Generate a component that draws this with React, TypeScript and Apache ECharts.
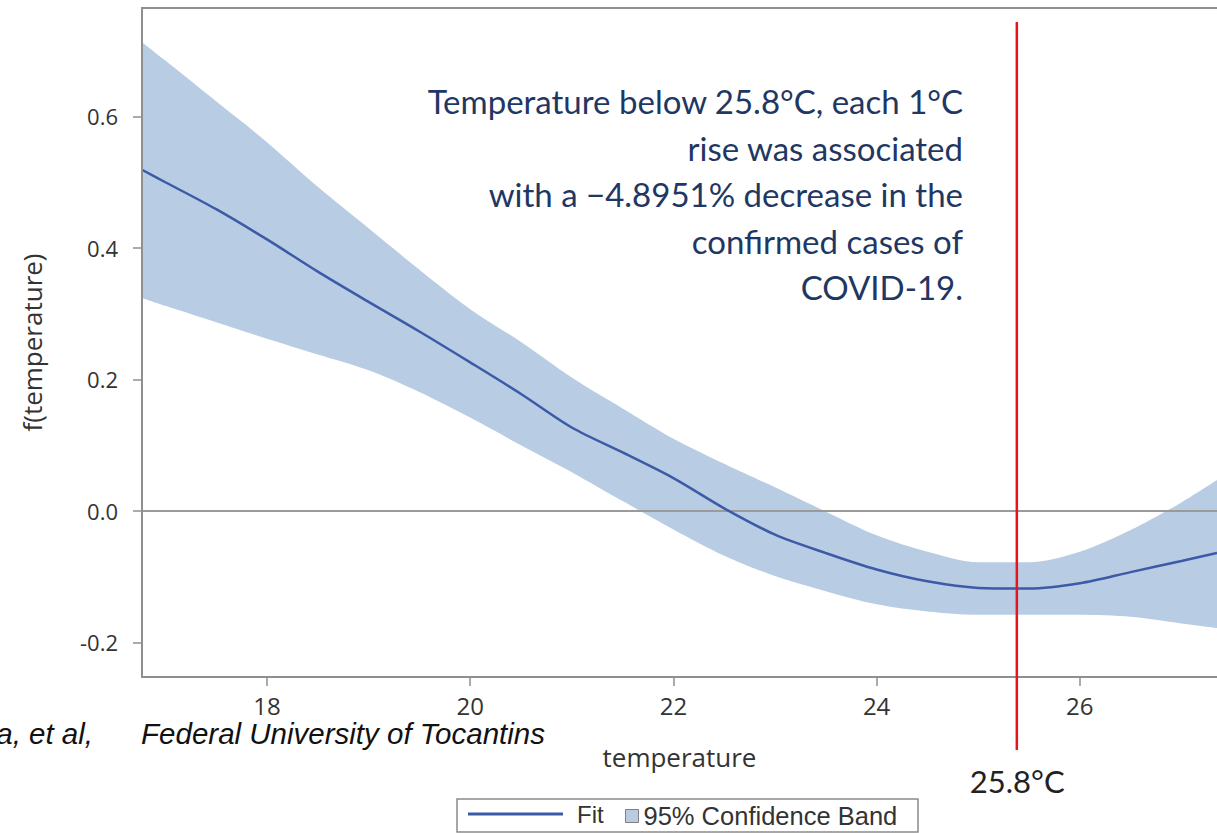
import React, { useEffect, useRef } from "react";
import * as echarts from "echarts";

const TEMPS = [16.77, 17, 17.5, 18, 18.5, 19, 19.5, 20, 20.5, 21, 21.5, 22, 22.5, 23, 23.5, 24, 24.5, 25, 25.5, 26, 26.5, 27, 27.35];
const FIT = [0.519, 0.5, 0.459, 0.413, 0.364, 0.318, 0.273, 0.226, 0.178, 0.127, 0.089, 0.05, 0.004, -0.036, -0.064, -0.089, -0.107, -0.117, -0.118, -0.11, -0.093, -0.076, -0.064];
const UPPER = [0.713, 0.685, 0.623, 0.561, 0.493, 0.43, 0.367, 0.307, 0.257, 0.203, 0.156, 0.11, 0.072, 0.036, -0.001, -0.037, -0.062, -0.078, -0.078, -0.062, -0.029, 0.013, 0.047];
const LOWER = [0.324, 0.312, 0.287, 0.262, 0.238, 0.214, 0.181, 0.142, 0.1, 0.059, 0.015, -0.028, -0.068, -0.099, -0.122, -0.142, -0.153, -0.158, -0.158, -0.158, -0.161, -0.171, -0.178];

const X_TICKS = [18, 20, 22, 24, 26];
const Y_TICKS = [-0.2, 0.0, 0.2, 0.4, 0.6];
const X_MIN = 16.77;
const X_MAX = 27.35;
const Y_MIN = -0.2525;
const Y_MAX = 0.765;
const THRESHOLD_POS = 25.38;
const THRESHOLD_LABEL = "25.8°C";
const ANNOTATION = [
  "Temperature below 25.8°C, each 1°C",
  "rise was associated",
  "with a \u22124.8951% decrease in the",
  "confirmed cases of",
  "COVID-19.",
];
const CAPTION_AUTHORS = "a, et al,";
const CAPTION_PLACE = "Federal University of Tocantins";

const AXIS_COLOR = "#8f8f8f";
const BAND_COLOR = "#b8cce4";
const FIT_COLOR = "#3c5aa6";

export default function App() {
  const ref = useRef<HTMLDivElement>(null);
  useEffect(() => {
    if (!ref.current) return;
    document.body.style.margin = "0";
    const chart = echarts.init(ref.current, null, { renderer: "svg" });
    const axisLine = { show: true, onZero: false, lineStyle: { color: AXIS_COLOR, width: 2 } };
    const xLabelFont = { fontFamily: "Open Sans", fontSize: 24, color: "#333" };
    const yLabelFont = { fontFamily: "Open Sans", fontSize: 22, color: "#333" };
    const captionStyle = {
      fontFamily: "Liberation Sans",
      fontStyle: "italic",
      fontSize: 29.5,
      fill: "#111",
      textAlign: "right",
      textVerticalAlign: "middle",
    };
    const option: any = {
      animation: false,
      grid: { left: 142, right: 0, top: 8, bottom: 156 },
      tooltip: { show: false },
      xAxis: [
        {
          type: "value",
          min: X_MIN,
          max: X_MAX,
          position: "bottom",
          z: 10,
          axisLine,
          axisTick: { show: true, length: 9, customValues: X_TICKS, lineStyle: { color: AXIS_COLOR, width: 1.5 } },
          axisLabel: { customValues: X_TICKS, margin: 16, ...xLabelFont },
          splitLine: { show: false },
          name: "temperature",
          nameLocation: "middle",
          nameGap: 67,
          nameTextStyle: { fontFamily: "Open Sans", fontSize: 26, color: "#333" },
        },
        {
          type: "value",
          min: X_MIN,
          max: X_MAX,
          position: "top",
          z: 10,
          axisLine,
          axisTick: { show: false },
          axisLabel: { show: false },
          splitLine: { show: false },
        },
      ],
      yAxis: {
        type: "value",
        min: Y_MIN,
        max: Y_MAX,
        z: 10,
        axisLine,
        axisTick: { show: true, length: 9, customValues: Y_TICKS, lineStyle: { color: AXIS_COLOR, width: 1.5 } },
        axisLabel: { customValues: Y_TICKS, margin: 24, formatter: (v: number) => v.toFixed(1), ...yLabelFont },
        splitLine: { show: false },
        name: "f(temperature)",
        nameLocation: "middle",
        nameGap: 97,
        nameTextStyle: { fontFamily: "Open Sans", fontSize: 26, color: "#333" },
      },
      legend: [
        {
          data: [{ name: "Fit", icon: "rect" }],
          left: 468,
          top: 802,
          padding: 0,
          itemWidth: 95,
          itemHeight: 3,
          selectedMode: false,
          textStyle: { fontFamily: "Liberation Sans", fontSize: 24, color: "#333", padding: [0, 0, 0, 9] },
        },
        {
          data: [{ name: "95% Confidence Band", icon: "rect" }],
          left: 625,
          top: 803,
          padding: 0,
          itemWidth: 13,
          itemHeight: 13,
          selectedMode: false,
          itemStyle: { borderColor: "#7f7f7f", borderWidth: 1 },
          textStyle: { fontFamily: "Liberation Sans", fontSize: 25.5, color: "#333" },
        },
      ],
      series: [
        {
          name: "95% Confidence Band",
          type: "line",
          data: TEMPS.map((x, i) => [x, UPPER[i]]),
          symbol: "none",
          smooth: 0.3,
          silent: true,
          itemStyle: { color: BAND_COLOR },
          lineStyle: { width: 0, color: BAND_COLOR },
          areaStyle: { color: BAND_COLOR, opacity: 1, origin: "start" },
          z: 1,
        },
        {
          name: "lower bound",
          type: "line",
          data: TEMPS.map((x, i) => [x, LOWER[i]]),
          symbol: "none",
          smooth: 0.3,
          silent: true,
          itemStyle: { color: "#ffffff" },
          lineStyle: { width: 0, color: "#ffffff" },
          areaStyle: { color: "#ffffff", opacity: 1, origin: "start" },
          z: 2,
        },
        {
          name: "Fit",
          type: "line",
          data: TEMPS.map((x, i) => [x, FIT[i]]),
          symbol: "none",
          smooth: 0.3,
          itemStyle: { color: FIT_COLOR },
          lineStyle: { color: FIT_COLOR, width: 2.5 },
          silent: true,
          z: 5,
          markLine: {
            silent: true,
            symbol: "none",
            label: { show: false },
            lineStyle: { color: "#9a9a9a", width: 2, type: "solid" },
            data: [{ yAxis: 0 }],
          },
        },
      ],
    };
    chart.setOption(option);
    const px = chart.convertToPixel({ xAxisIndex: 0 }, THRESHOLD_POS) as number;
    chart.setOption({
      graphic: [
        {
          type: "line",
          z: 100,
          shape: { x1: px, y1: 22, x2: px, y2: 750 },
          style: { stroke: "#e8141b", lineWidth: 2.5 },
        },
        {
          type: "text",
          z: 100,
          x: px - 47,
          y: 781,
          style: {
            text: THRESHOLD_LABEL,
            fontFamily: "Lato",
            fontSize: 31,
            fill: "#222",
            textVerticalAlign: "middle",
          },
        },
        {
          type: "text",
          z: 100,
          x: 963,
          y: 78,
          style: {
            text: ANNOTATION.join("\n"),
            fontFamily: "Lato",
            fontSize: 33,
            lineHeight: 46.5,
            fill: "#1f3763",
            textAlign: "right",
            textVerticalAlign: "top",
          },
        },
        { type: "text", z: 100, x: 93, y: 733, style: { text: CAPTION_AUTHORS, ...captionStyle } },
        { type: "text", z: 100, x: 545, y: 733, style: { text: CAPTION_PLACE, ...captionStyle } },
        {
          type: "rect",
          z: 100,
          shape: { x: 457, y: 799, width: 461, height: 33 },
          style: { fill: "none", stroke: "#8a8a8a", lineWidth: 1.5 },
        },
      ],
    });
    return () => chart.dispose();
  }, []);
  return <div ref={ref} style={{ width: 1217, height: 833, background: "#fff" }} />;
}
